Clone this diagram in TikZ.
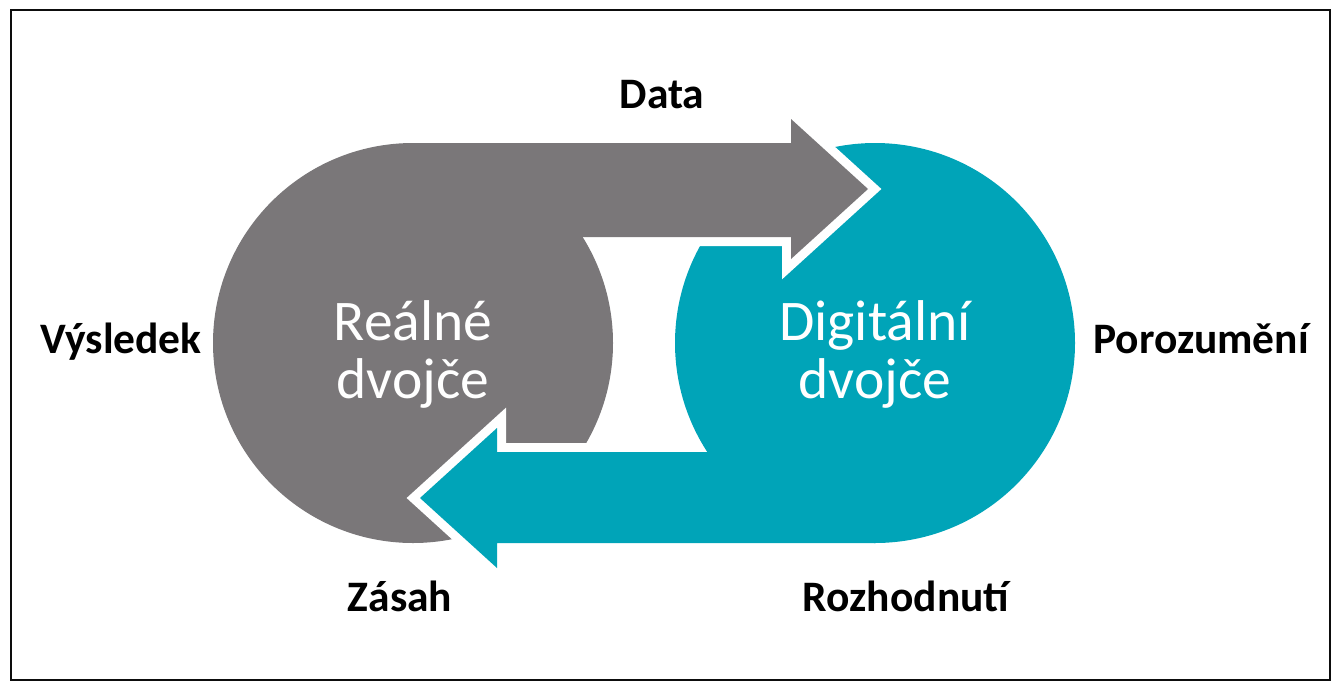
\documentclass[tikz,border=0pt]{standalone}
\usepackage{fontspec}
\setmainfont{Carlito}
\definecolor{twingray}{RGB}{122,119,121}
\definecolor{twinteal}{RGB}{0,164,184}
\begin{document}
\begin{tikzpicture}[x=1pt,y=-1pt,
  lab/.style={font=\fontsize{43.5}{50}\selectfont\bfseries, text=black, inner sep=0pt},
  big/.style={font=\fontsize{57.5}{60}\selectfont, text=white, inner sep=0pt},
  gap/.style={draw=white, line width=18pt, line join=miter}]
\useasboundingbox (0,0) rectangle (1343,691);
% frame
\draw[line width=2pt, black!95] (11,10.3) rectangle (1330,680);
% teal circle
\fill[twinteal] (875,343) circle[radius=200];
% gray arrow with white outline over teal
\begin{scope}
  \clip (620,0) rectangle (1343,691);
  \draw[gap] (413,143) -- (791,143) -- (791,119) -- (868,189) -- (791,259) -- (791,237) -- (413,237) -- cycle;
\end{scope}
\fill[twingray] (413,143) -- (791,143) -- (791,119) -- (868,189) -- (791,259) -- (791,237) -- (413,237) -- cycle;
\fill[twingray] (413,343) circle[radius=200];
% teal arrow with white outline over gray
\begin{scope}
  \clip (0,0) rectangle (660,691);
  \draw[gap] (875,452) -- (497,452) -- (497,428) -- (420,498) -- (497,568) -- (497,543) -- (875,543) -- cycle;
\end{scope}
\fill[twinteal] (875,452) -- (497,452) -- (497,428) -- (420,498) -- (497,568) -- (497,543) -- (875,543) -- cycle;
% texts
\node[big, anchor=base] (real1) at (413,340) {Reálné};
\node[big, anchor=base] (real2) at (413,398) {dvojče};
\node[big, anchor=base] (dig1) at (875,340) {Digitální};
\node[big, anchor=base] (dig2) at (875,398) {dvojče};
\node[lab, anchor=base] (data) at (662,108) {Data};
\node[lab, anchor=base west] (vysledek) at (40,353) {Výsledek};
\node[lab, anchor=base] (porozumeni) at (1201,353) {Porozumění};
\node[lab, anchor=base] (zasah) at (400,611) {Zásah};
\node[lab, anchor=base] (rozhodnuti) at (906,611) {Rozhodnutí};
\end{tikzpicture}
\end{document}
